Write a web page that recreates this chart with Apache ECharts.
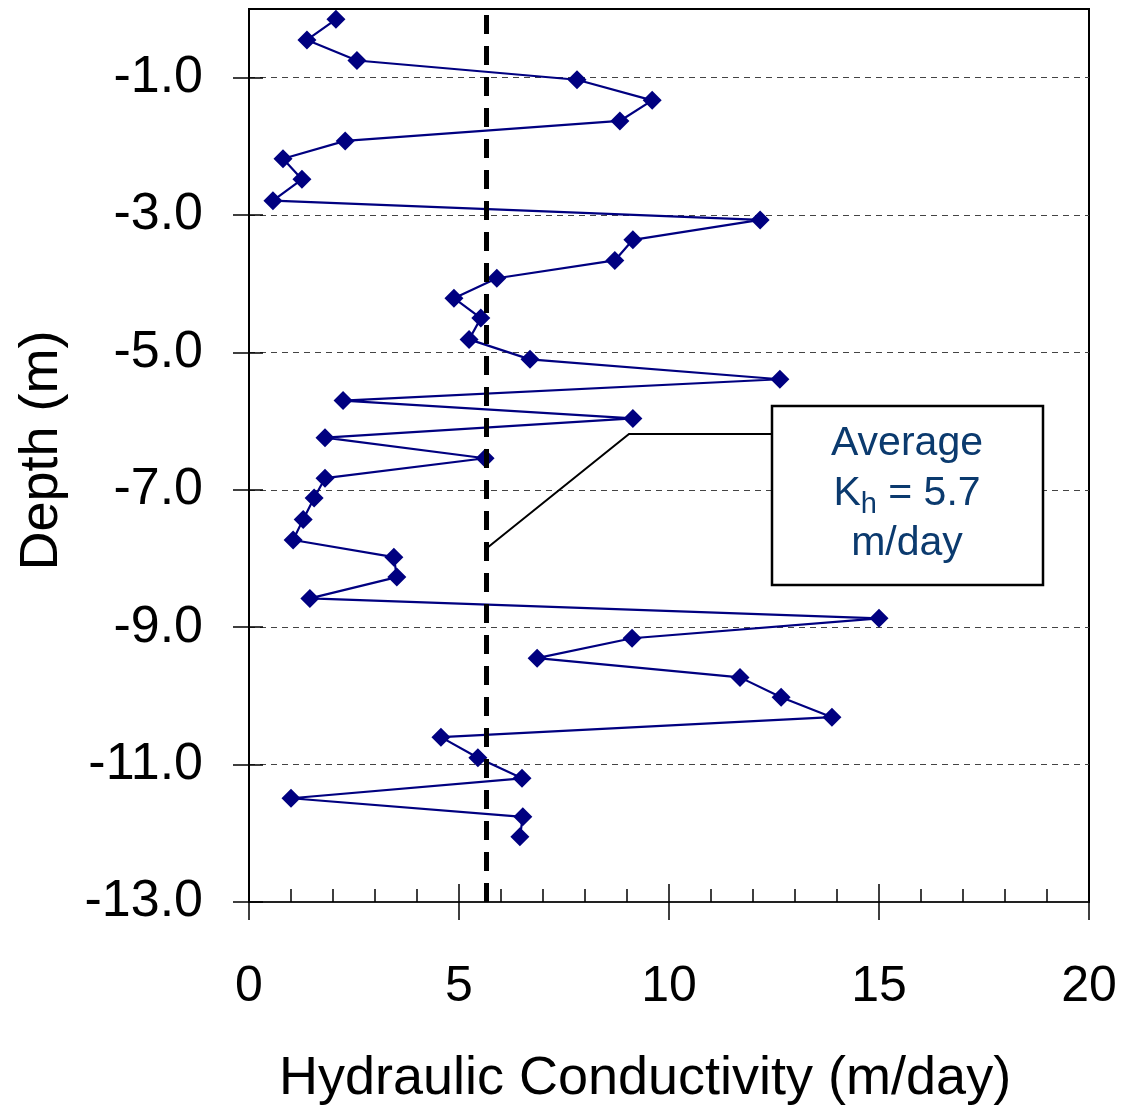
<!DOCTYPE html>
<html>
<head>
<meta charset="utf-8">
<script src="https://cdn.jsdelivr.net/npm/echarts@6/dist/echarts.min.js"></script>
<style>
  html, body { margin: 0; padding: 0; background: #fff; }
  #chart { width: 1124px; height: 1111px; }
</style>
</head>
<body>
<div id="chart"></div>
<script>
// depth (m) and hydraulic conductivity (m/day)
var depths = [-0.15, -0.45, -0.75, -1.03, -1.33, -1.63, -1.92, -2.18, -2.48, -2.79,
  -3.07, -3.36, -3.66, -3.92, -4.21, -4.5, -4.81, -5.1, -5.39, -5.7,
  -5.96, -6.24, -6.54, -6.83, -7.12, -7.43, -7.73, -7.98, -8.27, -8.58,
  -8.87, -9.16, -9.45, -9.73, -10.02, -10.31, -10.6, -10.9, -11.2, -11.49,
  -11.76, -12.05];
var kValues = [2.07, 1.38, 2.57, 7.81, 9.6, 8.83, 2.29, 0.81, 1.26, 0.57,
  12.17, 9.14, 8.71, 5.9, 4.88, 5.52, 5.24, 6.69, 12.64, 2.24,
  9.14, 1.81, 5.62, 1.81, 1.55, 1.29, 1.05, 3.45, 3.52, 1.45,
  15.0, 9.12, 6.86, 11.69, 12.67, 13.88, 4.57, 5.45, 6.5, 1.0,
  6.52, 6.45];
var avgK = 5.65; // position of the dashed average line
var depthTicks = [-13, -11, -9, -7, -5, -3, -1];
var kTicks = [0, 5, 10, 15, 20];

var FONT = 'Liberation Sans';
var GRID = { left: 249, right: 35, top: 9, bottom: 209 };
var gridW = 1124 - GRID.left - GRID.right;
var gridH = 1111 - GRID.top - GRID.bottom;

var chart = echarts.init(document.getElementById('chart'));

var points = [];
for (var i = 0; i < depths.length; i++) {
  points.push([kValues[i], depths[i]]);
}

var tickStyle = { color: '#000', width: 1.5 };

var option = {
  animation: false,
  backgroundColor: '#fff',
  grid: {
    left: GRID.left, right: GRID.right, top: GRID.top, bottom: GRID.bottom,
    show: true, borderColor: '#000', borderWidth: 2, backgroundColor: 'transparent'
  },
  xAxis: [{
    type: 'value',
    position: 'bottom',
    min: kTicks[0], max: kTicks[kTicks.length - 1], interval: 5,
    axisLine: { show: true, onZero: false, lineStyle: { color: '#222', width: 2 } },
    axisTick: { show: true, inside: true, length: 18, lineStyle: tickStyle },
    minorTick: { show: true, splitNumber: 5, length: 13, lineStyle: tickStyle },
    splitLine: { show: false },
    axisLabel: { color: '#000', fontSize: 50, fontFamily: FONT, margin: 60 },
    name: 'Hydraulic Conductivity (m/day)',
    nameLocation: 'middle',
    nameGap: 150,
    nameTextStyle: { color: '#000', fontSize: 54, fontFamily: FONT, padding: [0, 48, 0, 0] }
  }, {
    // second copy of the axis, moved down onto the bottom edge, for the outer half of the major ticks
    type: 'value',
    position: 'top',
    offset: -gridH,
    min: kTicks[0], max: kTicks[kTicks.length - 1], interval: 5,
    axisLine: { show: false, onZero: false },
    axisTick: { show: true, inside: true, length: 18, lineStyle: tickStyle },
    axisLabel: { show: false },
    splitLine: { show: false }
  }],
  yAxis: [{
    type: 'value',
    position: 'left',
    min: -13, max: 0,
    axisLine: { show: true, onZero: false, lineStyle: { color: '#000', width: 2 } },
    axisTick: { show: true, inside: true, length: 14, customValues: depthTicks, lineStyle: tickStyle },
    axisLabel: { customValues: depthTicks, color: '#000', fontSize: 52, fontFamily: FONT, margin: 46,
      padding: [8, 0, 0, 0],
      formatter: function (v) { return v.toFixed(1); } },
    splitLine: { show: true, lineStyle: { color: '#444', width: 1, type: [6, 5] } },
    name: 'Depth (m)',
    nameLocation: 'middle',
    nameGap: 180,
    nameRotate: 90,
    nameTextStyle: { color: '#000', fontSize: 54, fontFamily: FONT, padding: [0, 0, 0, 10] }
  }, {
    type: 'value',
    position: 'right',
    offset: -gridW,
    min: -13, max: 0,
    axisLine: { show: false, onZero: false },
    axisTick: { show: true, inside: true, length: 16, customValues: depthTicks, lineStyle: tickStyle },
    axisLabel: { show: false },
    splitLine: { show: false }
  }],
  series: [{
    type: 'line',
    data: points,
    xAxisIndex: 0,
    yAxisIndex: 0,
    symbol: 'diamond',
    symbolSize: 19,
    lineStyle: { color: '#000080', width: 2.2 },
    itemStyle: { color: '#000080' },
    markLine: {
      silent: true,
      symbol: ['none', 'none'],
      label: { show: false },
      lineStyle: { color: '#000', width: 5, type: [19, 12] },
      data: [{ xAxis: avgK }]
    }
  }],
  graphic: [{
    type: 'polyline',
    z: 50,
    shape: { points: [[772, 434], [629, 434], [487, 548]] },
    style: { stroke: '#000', lineWidth: 2, fill: null }
  }, {
    type: 'rect',
    z: 50,
    shape: { x: 772, y: 406, width: 271, height: 179 },
    style: { fill: '#fff', stroke: '#000', lineWidth: 2.5 }
  }, {
    type: 'text',
    z: 51,
    x: 907, y: 494,
    style: {
      text: '{a|Average}\n{a|K}{s|h}{a| = 5.7}\n{a|m/day}',
      align: 'center',
      verticalAlign: 'middle',
      rich: {
        a: { fontSize: 41, lineHeight: 50, fontFamily: FONT, fill: '#0B3A6E' },
        s: { fontSize: 29, lineHeight: 22, fontFamily: FONT, fill: '#0B3A6E', verticalAlign: 'bottom' }
      }
    }
  }]
};

chart.setOption(option);
</script>
</body>
</html>
